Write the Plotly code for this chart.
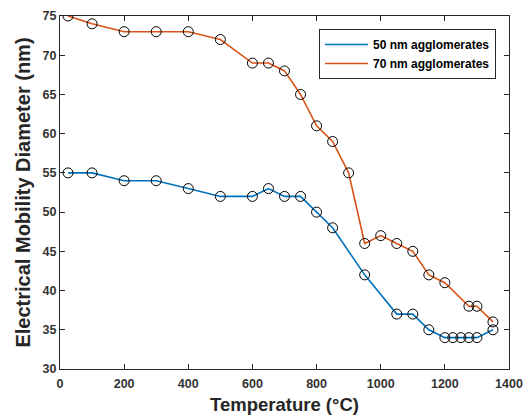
import plotly.graph_objects as go

temp_50 = [25, 100, 200, 300, 400, 500, 600, 650, 700, 750, 800, 850, 950, 1050, 1100, 1150, 1200, 1225, 1250, 1275, 1300, 1350]
diam_50 = [55, 55, 54, 54, 53, 52, 52, 53, 52, 52, 50, 48, 42, 37, 37, 35, 34, 34, 34, 34, 34, 35]

temp_70 = [25, 100, 200, 300, 400, 500, 600, 650, 700, 750, 800, 850, 900, 950, 1000, 1050, 1100, 1150, 1200, 1275, 1300, 1350]
diam_70 = [75, 74, 73, 73, 73, 72, 69, 69, 68, 65, 61, 59, 55, 46, 47, 46, 45, 42, 41, 38, 38, 36]

x_ticks = [0, 200, 400, 600, 800, 1000, 1200, 1400]
y_ticks = [30, 35, 40, 45, 50, 55, 60, 65, 70, 75]

blue = "#0072BD"
orange = "#D95319"
axis_col = "#262626"
font_family = "Liberation Sans, Arial, sans-serif"

fig = go.Figure()
fig.add_trace(go.Scatter(x=temp_50, y=diam_50, mode="lines", name="50 nm agglomerates",
                         line=dict(color=blue, width=1.6)))
fig.add_trace(go.Scatter(x=temp_70, y=diam_70, mode="lines", name="70 nm agglomerates",
                         line=dict(color=orange, width=1.6)))
marker_style = dict(symbol="circle-open", size=10, color="black", line=dict(width=1, color="black"))
fig.add_trace(go.Scatter(x=temp_50, y=diam_50, mode="markers", showlegend=False, marker=marker_style))
fig.add_trace(go.Scatter(x=temp_70, y=diam_70, mode="markers", showlegend=False, marker=marker_style))

axis_common = dict(
    showline=True, linecolor=axis_col, linewidth=1, mirror="ticks",
    ticks="inside", ticklen=5, tickcolor=axis_col, tickwidth=1,
    showgrid=False, zeroline=False, automargin=False,
    tickfont=dict(family=font_family, size=12.5, color="#333333", weight="bold"),
)

fig.update_layout(
    width=524, height=417,
    margin=dict(l=60, r=15, t=16, b=48),
    plot_bgcolor="white", paper_bgcolor="white",
    font=dict(family=font_family, color=axis_col),
    xaxis=dict(range=[0, 1400], tickvals=x_ticks, ticklabelstandoff=3,
               title=dict(text="Temperature (°C)", standoff=8,
                          font=dict(family=font_family, size=18.5, color=axis_col, weight="bold")),
               **axis_common),
    yaxis=dict(range=[30, 75], tickvals=y_ticks,
               title=dict(text="Electrical Mobility Diameter (nm)", standoff=6,
                          font=dict(family=font_family, size=20, color=axis_col, weight="bold")),
               **axis_common),
    legend=dict(x=0.971, y=0.963, xanchor="right", yanchor="top",
                bgcolor="white", bordercolor=axis_col, borderwidth=1,
                font=dict(family=font_family, size=12, color="black", weight="bold"),
                tracegroupgap=0, itemwidth=43),
)

fig.write_html("out.html",
               config={"displayModeBar": False},
               post_script="document.body.style.margin='0';document.body.style.overflow='hidden';")
